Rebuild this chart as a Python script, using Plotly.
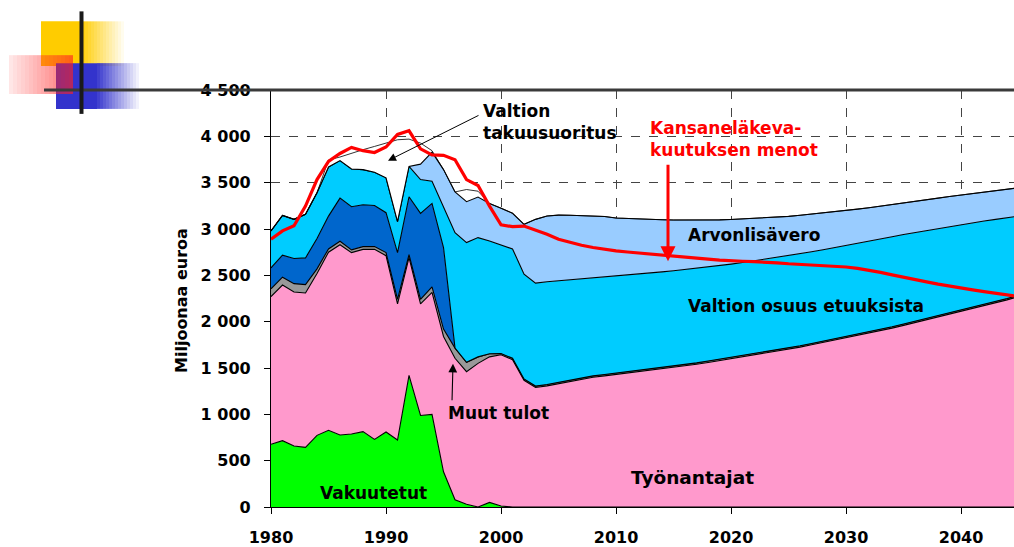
import plotly.graph_objects as go

# ---------------- data (million euro) ----------------
years = list(range(1980, 2046))

# stack levels (cumulative tops of each layer, bottom to top)
top_vakuutetut = [677, 716, 658, 644, 773, 827, 777, 787, 813, 730,
                  809, 723, 1421, 988, 1000, 380, 78, 30, 0, 50,
                  10, 0, 0, 0, 0, 0, 0, 0, 0, 0,
                  0, 0, 0, 0, 0, 0, 0, 0, 0, 0,
                  0, 0, 0, 0, 0, 0, 0, 0, 0, 0,
                  0, 0, 0, 0, 0, 0, 0, 0, 0, 0,
                  0, 0, 0, 0, 0, 0]
top_tyonantajat = [2270, 2395, 2320, 2310, 2520, 2750, 2830, 2745, 2780, 2780,
                   2712, 2191, 2692, 2191, 2317, 1840, 1605, 1460, 1550, 1620,
                   1643, 1590, 1367, 1290, 1307, 1330, 1355, 1380, 1400, 1415,
                   1430, 1445, 1460, 1475, 1490, 1505, 1520, 1540, 1560, 1580,
                   1600, 1620, 1640, 1660, 1680, 1700, 1725, 1750, 1775, 1800,
                   1830, 1855, 1880, 1905, 1930, 1960, 1990, 2020, 2050, 2080,
                   2110, 2140, 2170, 2200, 2235, 2270]
top_muut = [2355, 2480, 2410, 2400, 2570, 2785, 2868, 2775, 2810, 2810,
            2745, 2240, 2722, 2240, 2375, 1920, 1715, 1562, 1620, 1654,
            1656, 1605, 1382, 1305, 1322, 1345, 1370, 1395, 1415, 1430,
            1445, 1460, 1475, 1490, 1505, 1520, 1535, 1555, 1575, 1595,
            1615, 1635, 1655, 1675, 1695, 1715, 1740, 1765, 1790, 1815,
            1845, 1870, 1895, 1920, 1945, 1975, 2005, 2035, 2065, 2095,
            2125, 2155, 2185, 2215, 2250, 2285]
top_kunnat = [2580, 2717, 2682, 2688, 2897, 3139, 3333, 3240, 3262, 3254,
              3176, 2746, 3348, 3168, 3276, 2800, 1715, 1562, 1620, 1654,
              1656, 1605, 1382, 1305, 1322, 1345, 1370, 1395, 1415, 1430,
              1445, 1460, 1475, 1490, 1505, 1520, 1535, 1555, 1575, 1595,
              1615, 1635, 1655, 1675, 1695, 1715, 1740, 1765, 1790, 1815,
              1845, 1870, 1895, 1920, 1945, 1975, 2005, 2035, 2065, 2095,
              2125, 2155, 2185, 2215, 2250, 2285]
top_valtion_osuus = [2978, 3147, 3104, 3158, 3391, 3670, 3738, 3648, 3641, 3612,
                     3552, 3080, 3676, 3533, 3515, 3229, 2961, 2853, 2907, 2871,
                     2825, 2785, 2513, 2416, 2430, 2440, 2452, 2463, 2474, 2485,
                     2495, 2505, 2515, 2525, 2537, 2550, 2563, 2577, 2592, 2606,
                     2621, 2638, 2656, 2674, 2692, 2710, 2732, 2754, 2776, 2798,
                     2820, 2844, 2868, 2892, 2916, 2940, 2962, 2984, 3006, 3028,
                     3050, 3068, 3086, 3104, 3122, 3140]
top_arvonlisavero = [2978, 3147, 3104, 3158, 3391, 3670, 3738, 3648, 3641, 3612,
                     3552, 3080, 3676, 3700, 3830, 3641, 3400, 3295, 3345, 3275,
                     3225, 3170, 3050, 3104, 3140, 3150, 3148, 3145, 3140, 3135,
                     3118, 3112, 3108, 3104, 3100, 3097, 3096, 3096, 3097, 3099,
                     3103, 3108, 3114, 3121, 3128, 3136, 3148, 3160, 3172, 3186,
                     3200, 3215, 3230, 3246, 3262, 3280, 3297, 3315, 3333, 3351,
                     3368, 3383, 3398, 3413, 3428, 3445]
top_takuusuoritus = [2978, 3147, 3104, 3158, 3391, 3745, 3777, 3820, 3856, 3891,
                     3927, 3963, 3970, 3927, 3845, 3641, 3400, 3426, 3408, 3275,
                     3225, 3170, 3050, 3104, 3140, 3150, 3148, 3145, 3140, 3135,
                     3118, 3112, 3108, 3104, 3100, 3097, 3096, 3096, 3097, 3099,
                     3103, 3108, 3114, 3121, 3128, 3136, 3148, 3160, 3172, 3186,
                     3200, 3215, 3230, 3246, 3262, 3280, 3297, 3315, 3333, 3351,
                     3368, 3383, 3398, 3413, 3428, 3445]
menot = [2889, 2980, 3035, 3247, 3533, 3730, 3815, 3880, 3845, 3825,
         3885, 4020, 4060, 3865, 3800, 3795, 3748, 3533, 3469, 3247,
         3045, 3025, 3032, 2990, 2943, 2889, 2853, 2825, 2800, 2780,
         2764, 2752, 2740, 2728, 2716, 2705, 2695, 2685, 2675, 2665,
         2656, 2652, 2648, 2645, 2635, 2625, 2618, 2612, 2606, 2598,
         2590, 2575, 2555, 2532, 2505, 2477, 2455, 2430, 2405, 2382,
         2360, 2343, 2325, 2307, 2290, 2272]

layers = [
    ("Vakuutetut", top_vakuutetut, "#00FF00"),
    ("Työnantajat", top_tyonantajat, "#FF99CC"),
    ("Muut tulot", top_muut, "#999999"),
    ("Kunnat", top_kunnat, "#0066CC"),
    ("Valtion osuus etuuksista", top_valtion_osuus, "#00CCFF"),
    ("Arvonlisävero", top_arvonlisavero, "#99CCFF"),
    ("Valtion takuusuoritus", top_takuusuoritus, "#FFFFFF"),
]

y_ticks = [0, 500, 1000, 1500, 2000, 2500, 3000, 3500, 4000, 4500]
y_labels = ["0", "500", "1 000", "1 500", "2 000", "2 500", "3 000", "3 500", "4 000", "4 500"]
x_ticks = [1980, 1990, 2000, 2010, 2020, 2030, 2040]

# ---------------- layout geometry (pixels) ----------------
W_PX, H_PX = 1014, 547
L, T, PW, PH = 271, 90, 743, 419


def px(x):
    return (x - L) / PW


def py(y):
    return (T + PH - y) / PH


FONT = "DejaVu Sans"

fig = go.Figure()
for i, (name, vals, col) in enumerate(layers):
    fig.add_trace(go.Scatter(
        x=years, y=vals, name=name, mode="lines",
        fill="tozeroy" if i == 0 else "tonexty",
        fillcolor=col,
        line=dict(color="black", width=0.8 if name == "Valtion takuusuoritus" else 1.1),
        hoverinfo="x+y+name",
    ))

fig.add_trace(go.Scatter(
    x=years, y=menot, name="Kansaneläkevakuutuksen menot", mode="lines",
    line=dict(color="#FF0000", width=3.2), hoverinfo="x+y+name",
))

# ---------------- decoration (slide template) ----------------
shapes = []


def rect(x0, y0, x1, y1, color, opacity=1.0):
    shapes.append(dict(type="rect", xref="paper", yref="paper",
                       x0=px(x0), x1=px(x1), y0=py(y1), y1=py(y0),
                       fillcolor=color, opacity=opacity, line=dict(width=0),
                       layer="above"))


# yellow square with fade
rect(41, 21, 82, 66, "#FFCC00")
n = 14
for k in range(n):
    xa = 82 + k * 3
    rect(xa, 21, xa + 3, 66, "#FFCC00", 1 - (k + 1) / (n + 1))
# blue square with fade
rect(56, 63, 97, 109, "#3333CC")
n = 14
for k in range(n):
    xa = 97 + k * 3
    rect(xa, 63, xa + 3, 109, "#3333CC", 1 - (k + 1) / (n + 1))
# red square fading in from the left
n = 16
for k in range(n):
    xa = 9 + k * 4
    rect(xa, 55, xa + 4, 94, "#FF2222", 0.08 + 0.55 * (k + 1) / n)

# crossing lines
shapes.append(dict(type="line", xref="paper", yref="paper",
                   x0=px(44), x1=px(1014), y0=py(90), y1=py(90),
                   line=dict(color="#3a3a3a", width=3), layer="above"))
shapes.append(dict(type="line", xref="paper", yref="paper",
                   x0=px(81.5), x1=px(81.5), y0=py(11), y1=py(114),
                   line=dict(color="#1a1a1a", width=4), layer="above"))

# ---------------- annotations ----------------
ann = []


def label(text, x, y, color="black", size=17, xanchor="left"):
    ann.append(dict(text=text, x=px(x), y=py(y), xref="paper", yref="paper",
                    showarrow=False, xanchor=xanchor, yanchor="middle", align="left",
                    font=dict(family=FONT, size=size, color=color, weight="bold")))


label("Valtion<br>takuusuoritus", 481, 122)
label("Kansaneläkeva-<br>kuutuksen menot", 648, 139, color="#FF0000")
label("Arvonlisävero", 686, 236)
label("Valtion osuus etuuksista", 686, 307)
label("Muut tulot", 446, 415)
label("Vakuutetut", 373, 495, xanchor="center")
label("Työnantajat", 692, 479, size=18.5, xanchor="center")

# arrows
ann.append(dict(x=px(388), y=py(161), xref="paper", yref="paper", text="",
                showarrow=True, ax=92, ay=-46, arrowhead=2, arrowsize=1.6,
                arrowwidth=1, arrowcolor="black"))
ann.append(dict(x=px(668), y=py(262), xref="paper", yref="paper", text="",
                showarrow=True, ax=0, ay=-98, arrowhead=2, arrowsize=1,
                arrowwidth=3, arrowcolor="#FF0000"))
ann.append(dict(x=px(453), y=py(365), xref="paper", yref="paper", text="",
                showarrow=True, ax=-1, ay=38, arrowhead=2, arrowsize=1.6,
                arrowwidth=1.1, arrowcolor="black"))

# y axis title
ann.append(dict(text="Miljoonaa euroa", x=px(182), y=py(302), xref="paper", yref="paper",
                showarrow=False, textangle=-90, xanchor="center", yanchor="middle",
                font=dict(family=FONT, size=16, color="black", weight="bold")))

fig.update_layout(
    width=W_PX, height=H_PX,
    margin=dict(l=L, r=W_PX - L - PW, t=T, b=H_PX - T - PH, pad=0),
    paper_bgcolor="white", plot_bgcolor="white",
    showlegend=False,
    shapes=shapes, annotations=ann,
    xaxis=dict(range=[1980, 2044.6], tickvals=x_ticks, ticktext=[str(v) for v in x_ticks],
               showgrid=True, gridcolor="#444444", griddash="dash", gridwidth=1,
               showline=True, linecolor="black", linewidth=1.2,
               ticks="outside", ticklen=6, tickcolor="black", ticklabelstandoff=10,
               zeroline=False,
               tickfont=dict(family=FONT, size=16, color="black", weight="bold")),
    yaxis=dict(range=[0, 4500], tickvals=y_ticks, ticktext=y_labels,
               showgrid=True, gridcolor="#444444", griddash="dash", gridwidth=1,
               showline=True, linecolor="black", linewidth=1.2,
               ticks="outside", ticklen=6, tickcolor="black", ticklabelstandoff=10,
               zeroline=False,
               tickfont=dict(family=FONT, size=16, color="black", weight="bold")),
)

fig.write_html("out.html", config={"displayModeBar": False},
               post_script="document.body.style.margin='0';")
